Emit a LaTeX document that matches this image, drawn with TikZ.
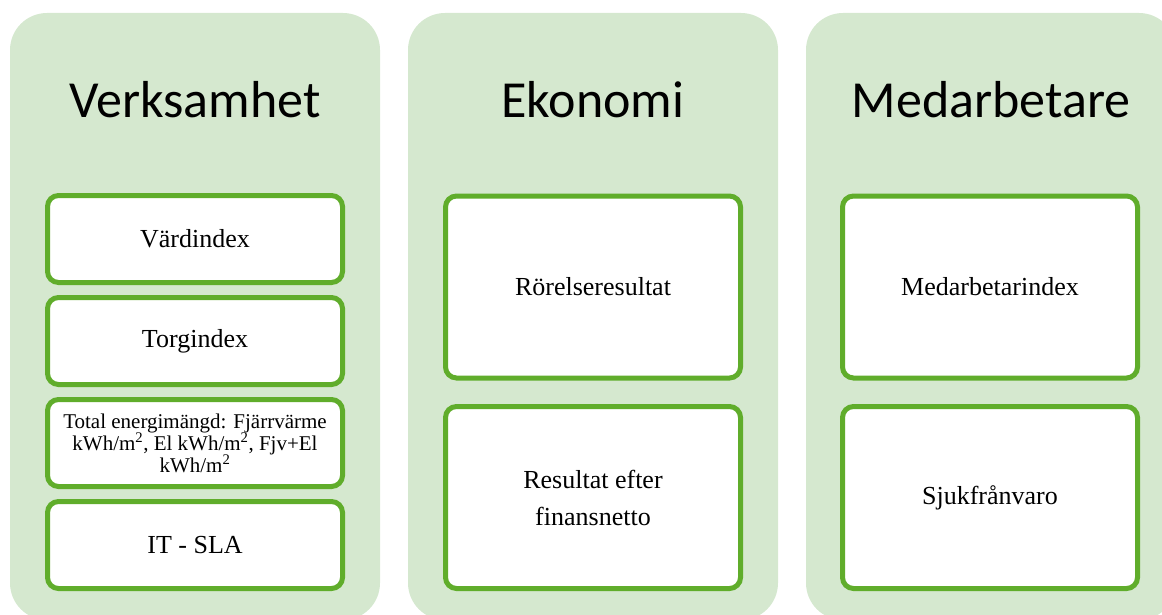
\documentclass[tikz,border=0pt]{standalone}
\usepackage{fontspec}
\setmainfont{Liberation Serif}
\newfontfamily\headfont{Carlito}
\usetikzlibrary{positioning}
\definecolor{panelgreen}{RGB}{213,232,207}
\definecolor{cardgreen}{RGB}{96,173,43}

\begin{document}
\begin{tikzpicture}[x=1pt, y=-1pt,
    panel/.style={fill=panelgreen, rounded corners=37pt},
    title/.style={font=\headfont\fontsize{52}{60}\selectfont, anchor=base},
    card/.style={draw=cardgreen, line width=5pt, fill=white, rounded corners=11pt,
        minimum width=295pt, inner sep=2pt, text width=285pt, align=flush center,
        font=\fontsize{26}{37}\selectfont},
    smallcard/.style={card, minimum height=87pt},
    bigcard/.style={card, minimum height=182pt}]
    \useasboundingbox (0,0) rectangle (1162,615);
    \clip (0,0) rectangle (1162,615);

    % Bakgrund
    \fill[panel] (10,13) rectangle (380,620);
    \fill[panel] (408,13) rectangle (778,620);
    \fill[panel] (806,13) rectangle (1176,620);

    % Rubriker
    \node[title] (verksamhet) at (195,118) {Verksamhet};
    \node[title] (ekonomi) at (593,118) {Ekonomi};
    \node[title] (medarbetare) at (991,118) {Medarbetare};

    % Verksamhet
    \node[smallcard] (vardindex) at (195,239) {Värdindex};
    \node[smallcard] (torgindex) at (195,341) {Torgindex};
    \node[smallcard, font=\fontsize{21}{22}\selectfont] (energi) at (195,443)
        {Total energimängd: Fjärrvärme kWh/m\textsuperscript{2}, El kWh/m\textsuperscript{2}, Fjv+El kWh/m\textsuperscript{2}};
    \node[smallcard] (itsla) at (195,545) {IT - SLA};

    % Ekonomi
    \node[bigcard] (rorelse) at (593,287) {Rörelseresultat};
    \node[bigcard] (resultat) at (593,497.5) {Resultat efter\\ finansnetto};

    % Medarbetare
    \node[bigcard] (medindex) at (990,287) {Medarbetarindex};
    \node[bigcard] (sjuk) at (990,497.5) {Sjukfrånvaro};
\end{tikzpicture}
\end{document}
